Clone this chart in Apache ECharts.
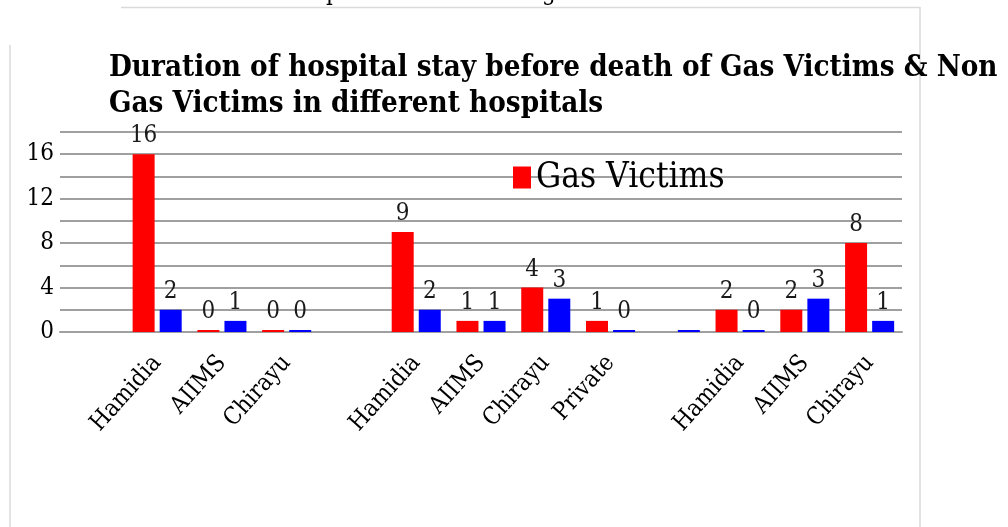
<!DOCTYPE html>
<html>
<head>
<meta charset="utf-8">
<title>Duration of hospital stay</title>
<script src="https://cdn.jsdelivr.net/npm/echarts@6/dist/echarts.min.js"></script>
<style>
  html, body { margin: 0; padding: 0; background: #fff; }
  #main { width: 1008px; height: 527px; }
</style>
</head>
<body>
<div id="main"></div>
<script>
// categories (empty strings are the blank slots between hospital groups)
var categories = ['', 'Hamidia', 'AIIMS', 'Chirayu', '', 'Hamidia', 'AIIMS', 'Chirayu', 'Private', '', 'Hamidia', 'AIIMS', 'Chirayu'];
var gasVictims = [null, 16, 0, 0, null, 9, 1, 4, 1, null, 2, 2, 8];
var nonGasVictims = [null, 2, 1, 0, null, 2, 1, 3, 0, 0, 0, 3, 1];
// points drawn without a value label
var nonGasNoLabel = [9];
var yTicks = [0, 4, 8, 12, 16];

var serif = '"DejaVu Serif Condensed", "DejaVu Serif", serif';
var gridColor = '#a0a0a0';
var frameColor = '#dadada';

function buildData(values, noLabel) {
    var out = [];
    for (var i = 0; i < values.length; i++) {
        if (noLabel && noLabel.indexOf(i) >= 0) {
            out.push({ value: values[i], label: { show: false } });
        } else {
            out.push(values[i]);
        }
    }
    return out;
}

var labelStyle = {
    show: true,
    position: 'top',
    distance: 6,
    fontFamily: serif,
    fontSize: 24,
    color: '#1a1a1a'
};

var myChart = echarts.init(document.getElementById('main'), null, { renderer: 'canvas' });
myChart.setOption({
    backgroundColor: '#ffffff',
    animation: false,
    title: {
        text: 'Duration of hospital stay before death of Gas Victims & Non\nGas Victims in different hospitals',
        left: 104,
        top: 45,
        textStyle: {
            fontFamily: serif,
            fontWeight: 'bold',
            fontSize: 29.3,
            lineHeight: 36,
            color: '#000'
        }
    },
    legend: {
        data: ['Gas Victims'],
        left: 508,
        top: 155,
        icon: 'rect',
        itemWidth: 18,
        itemHeight: 22,
        itemGap: 8,
        textStyle: {
            fontFamily: serif,
            fontSize: 35,
            color: '#000'
        }
    },
    grid: {
        left: 60,
        right: 106,
        top: 132,
        bottom: 195
    },
    xAxis: {
        type: 'category',
        data: categories,
        axisTick: { show: false },
        axisLine: { lineStyle: { color: gridColor, width: 2 } },
        axisLabel: {
            rotate: 48,
            interval: 0,
            margin: 27,
            fontFamily: serif,
            fontSize: 24,
            color: '#000'
        }
    },
    yAxis: {
        type: 'value',
        min: 0,
        max: 18,
        interval: 2,
        axisLine: { show: false },
        axisTick: { show: false },
        splitLine: { lineStyle: { color: gridColor, width: 2 } },
        axisLabel: {
            margin: 6,
            fontFamily: serif,
            fontSize: 24,
            color: '#000',
            formatter: function (v) {
                return yTicks.indexOf(v) >= 0 ? String(v) : '';
            }
        }
    },
    graphic: [
        { type: 'line', z: -10, shape: { x1: 121, y1: 7.5, x2: 920, y2: 7.5 }, style: { stroke: frameColor, lineWidth: 1.5 } },
        { type: 'line', z: -10, shape: { x1: 920, y1: 7, x2: 920, y2: 527 }, style: { stroke: frameColor, lineWidth: 1.5 } },
        { type: 'line', z: -10, shape: { x1: 10, y1: 45, x2: 10, y2: 527 }, style: { stroke: frameColor, lineWidth: 1.5 } },
        { type: 'text', z: -5, x: 326, y: -18, style: { text: 'p', font: '24px ' + serif, fill: '#000' } },
        { type: 'text', z: -5, x: 542, y: -18, style: { text: 'g', font: '24px ' + serif, fill: '#000' } }
    ],
    series: [
        {
            name: 'Gas Victims',
            type: 'bar',
            barWidth: 22,
            barGap: '23%',
            barMinHeight: 2,
            itemStyle: { color: '#ff0000' },
            label: labelStyle,
            data: buildData(gasVictims)
        },
        {
            name: 'Non Gas Victims',
            type: 'bar',
            barWidth: 22,
            barMinHeight: 2,
            itemStyle: { color: '#0000ff' },
            label: labelStyle,
            data: buildData(nonGasVictims, nonGasNoLabel)
        }
    ]
});
</script>
</body>
</html>
